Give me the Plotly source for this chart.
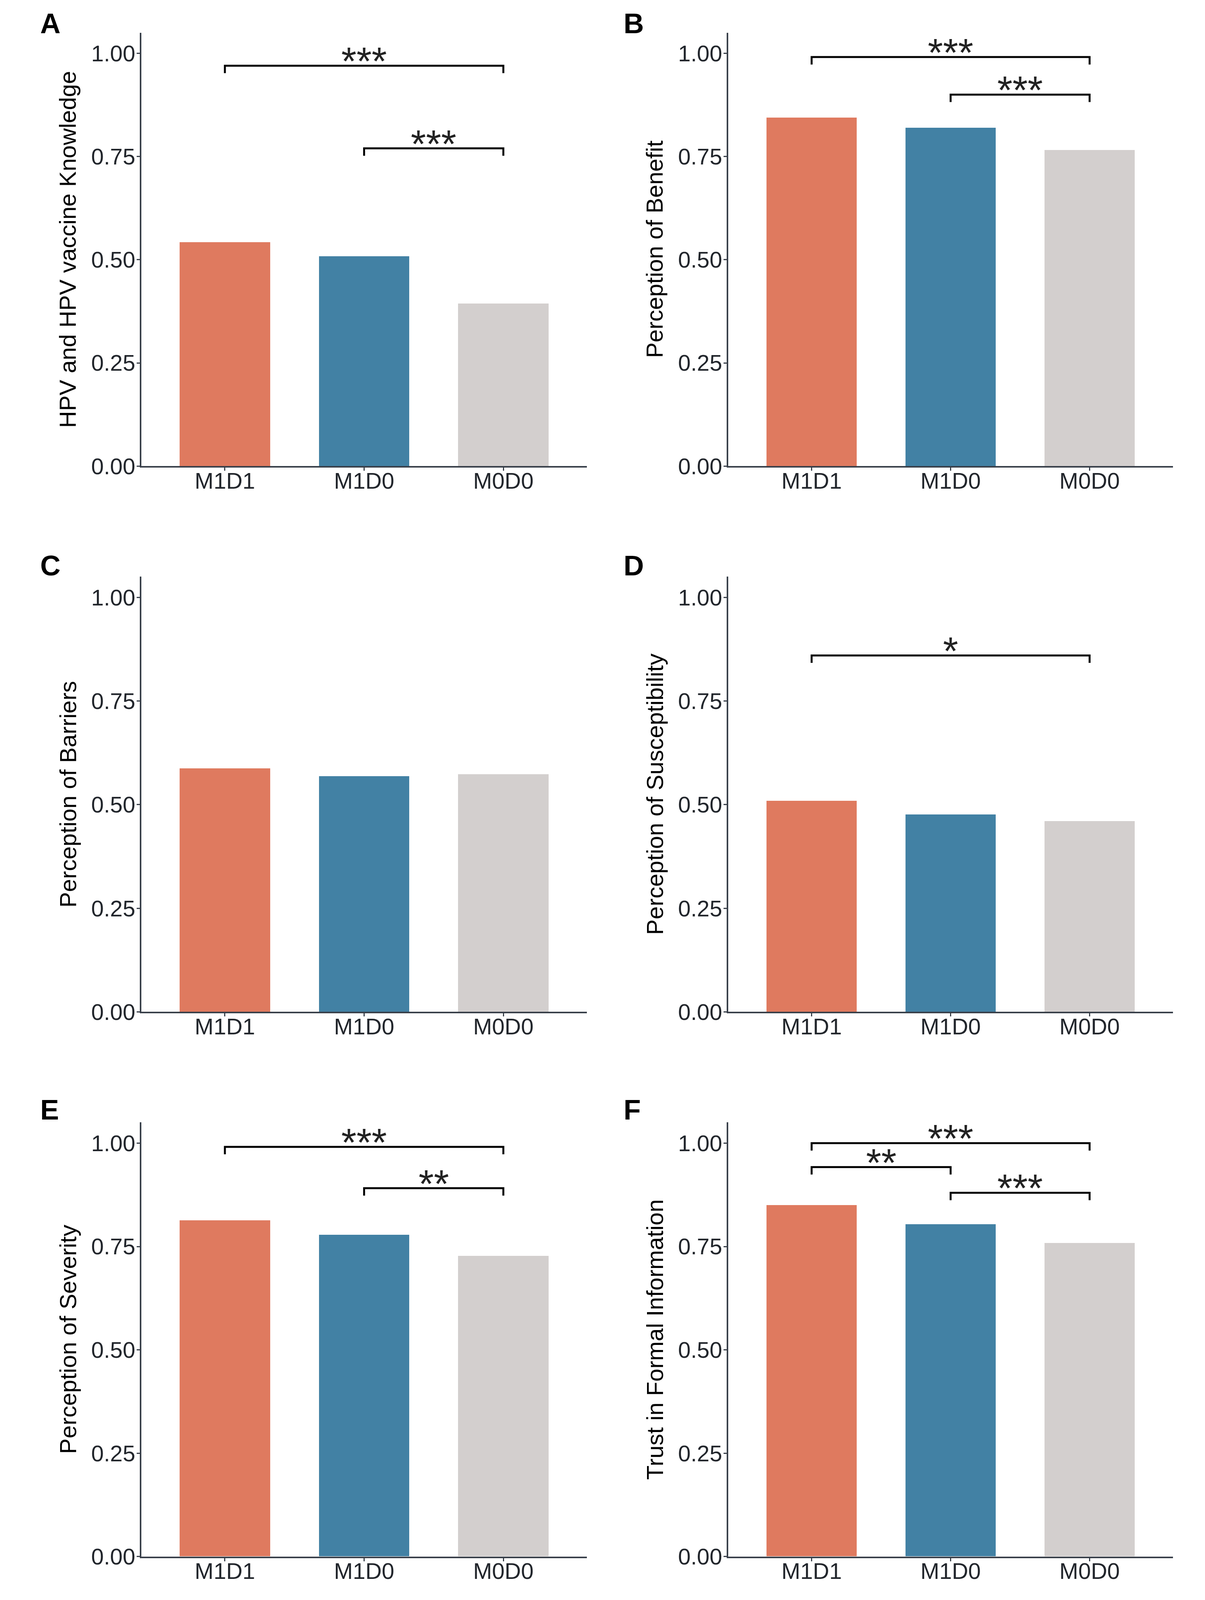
import plotly.graph_objects as go

W, H = 3086, 4366

categories = ["M1D1", "M1D0", "M0D0"]
bar_colors = ["#DF7A5F", "#4281A4", "#D3CFCE"]

panel_letters = ["A", "B", "C", "D", "E", "F"]
y_titles = [
    "HPV and HPV vaccine Knowledge",
    "Perception of Benefit",
    "Perception of Barriers",
    "Perception of Susceptibility",
    "Perception of Severity",
    "Trust in Formal Information",
]

values_A = [0.543, 0.509, 0.394]
values_B = [0.845, 0.820, 0.766]
values_C = [0.587, 0.568, 0.573]
values_D = [0.509, 0.476, 0.460]
values_E = [0.813, 0.778, 0.727]
values_F = [0.850, 0.803, 0.758]

# significance brackets: (from index, to index, bracket height, label)
sig_A = [(0, 2, 0.970, "***"), (1, 2, 0.770, "***")]
sig_B = [(0, 2, 0.991, "***"), (1, 2, 0.900, "***")]
sig_C = []
sig_D = [(0, 2, 0.860, "*")]
sig_E = [(0, 2, 0.991, "***"), (1, 2, 0.891, "**")]
sig_F = [(0, 2, 1.000, "***"), (0, 1, 0.942, "**"), (1, 2, 0.880, "***")]

y_tickvals = [0, 0.25, 0.5, 0.75, 1.0]
y_ticktext = ["0.00", "0.25", "0.50", "0.75", "1.00"]

all_values = [values_A, values_B, values_C, values_D, values_E, values_F]
all_sigs = [sig_A, sig_B, sig_C, sig_D, sig_E, sig_F]

# layout geometry (pixels of the 3086x4366 reference)
col_x = [(362, 1503), (1865, 3004)]
row_y = [(90, 1282), (1586, 2783), (3087, 4281)]  # (top, bottom)
letter_x = [101, 1595]
letter_base = [95, 1586, 3082]
leg = 0.018

AX_COLOR = "#39404A"
FONT = "Liberation Sans, Arial, sans-serif"
TICK_FONT = dict(family=FONT, size=58, color="#22262C")

fig = go.Figure()
annotations = []

for k in range(6):
    r, c = divmod(k, 2)
    n = "" if k == 0 else str(k + 1)
    xa, ya = "x" + n, "y" + n
    x0, x1 = col_x[c]
    top, bot = row_y[r]
    xdom = [x0 / W, x1 / W]
    ydom = [1 - bot / H, 1 - top / H]

    fig.add_trace(go.Bar(
        x=categories, y=all_values[k], marker=dict(color=bar_colors, line=dict(width=0)),
        width=0.65, xaxis=xa, yaxis=ya, showlegend=False, hoverinfo="skip",
    ))

    for (i, j, yb, lab) in all_sigs[k]:
        fig.add_trace(go.Scatter(
            x=[categories[i], categories[i], categories[j], categories[j]],
            y=[yb - leg, yb, yb, yb - leg],
            mode="lines", line=dict(color="black", width=5),
            xaxis=xa, yaxis=ya, showlegend=False, hoverinfo="skip",
        ))
        annotations.append(dict(
            x=(i + j) / 2, y=yb, xref=xa, yref=ya, text=lab, showarrow=False,
            xanchor="center", yanchor="middle", yshift=12,
            font=dict(family=FONT, size=100, color="#222222"),
        ))

    axis_common = dict(showline=True, linecolor=AX_COLOR, linewidth=4,
                       ticks="outside", ticklen=8, tickwidth=3, tickcolor=AX_COLOR,
                       showgrid=False, zeroline=False, tickfont=TICK_FONT)
    fig.update_layout(**{
        ("xaxis" + n): dict(domain=xdom, anchor=ya, type="category",
                            range=[-0.6, 2.6], categoryorder="array",
                            categoryarray=categories, ticklabelstandoff=-24,
                            **axis_common),
        ("yaxis" + n): dict(domain=ydom, anchor=xa, range=[0, 1.05],
                            tickvals=y_tickvals, ticktext=y_ticktext,
                            ticklabelstandoff=-8, **axis_common),
    })

    # y-axis title
    annotations.append(dict(
        x=(x0 - 188) / W, y=(ydom[0] + ydom[1]) / 2, xref="paper", yref="paper",
        text=y_titles[k], textangle=-90, showarrow=False,
        xanchor="center", yanchor="middle",
        font=dict(family=FONT, size=60, color="black"),
    ))
    # panel letter
    annotations.append(dict(
        x=letter_x[c] / W, y=1 - (letter_base[r] + 15) / H, xref="paper", yref="paper",
        text="<b>" + panel_letters[k] + "</b>", showarrow=False,
        xanchor="left", yanchor="bottom",
        font=dict(family=FONT, size=72, color="black"),
    ))

fig.update_layout(
    width=W, height=H, margin=dict(l=0, r=0, t=0, b=0),
    paper_bgcolor="white", plot_bgcolor="white",
    annotations=annotations, bargap=0,
)

# remove the page margin and fit the figure to the visible window
fit_js = (
    "document.documentElement.style.margin='0';"
    "document.body.style.margin='0';document.body.style.overflow='hidden';"
    "var gd=document.getElementById('{plot_id}');"
    "Plotly.relayout(gd,{width:window.innerWidth,height:window.innerHeight});"
)

fig.write_html("out.html", post_script=fit_js, config={"displayModeBar": False})
